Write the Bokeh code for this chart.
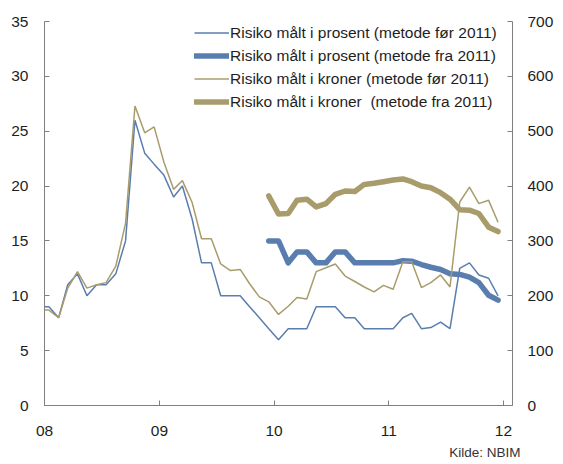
import pandas as pd
from bokeh.plotting import figure
from bokeh.models import (Range1d, LinearAxis, FixedTicker, DatetimeTickFormatter,
                          Title)
from bokeh.embed import file_html
from bokeh.resources import INLINE

# ---- data (monthly, Dec 2007 - Dec 2011) ----
months_old = pd.date_range("2007-12-01", periods=49, freq="MS") + pd.Timedelta(days=14)
months_new = pd.date_range("2009-12-01", periods=25, freq="MS") + pd.Timedelta(days=14)

pct_old = [9,
           9, 8, 11, 12, 10, 11, 11, 12, 15, 26, 23, 22,
           21, 19, 20, 17, 13, 13, 10, 10, 10, 9, 8, 7,
           6, 7, 7, 7, 9, 9, 9, 8, 8, 7, 7, 7,
           7, 8, 8.4, 7, 7.1, 7.6, 7, 12.5, 13, 11.9, 11.6, 10]

pct_new = [15,
           15, 13, 14, 14, 13, 13, 14, 14, 13, 13, 13, 13,
           13, 13.2, 13.15, 12.85, 12.6, 12.4, 12.0, 11.95, 11.7, 11.2, 10.05, 9.6]

kr_old = [174,
          174, 160, 214, 244, 214, 220, 224, 254, 332, 546, 497, 508,
          444, 394, 410, 370, 304, 304, 258, 246, 248, 222, 198, 189,
          166, 181, 197, 194, 244, 251, 258, 236, 226, 216, 207, 219,
          212, 262, 262, 215, 224, 238, 216, 371, 398, 368, 374, 334]

kr_new = [382,
          349, 350, 374, 376, 362, 368, 385, 391, 390, 403, 405, 408,
          411, 413, 408, 400, 397, 388, 376, 357, 356, 350, 325, 317]

year_ticks = ["2008-01-01", "2009-01-01", "2010-01-01", "2011-01-01", "2012-01-01"]
left_ticks = [0, 5, 10, 15, 20, 25, 30, 35]
right_ticks = [0, 100, 200, 300, 400, 500, 600, 700]

labels = ["Risiko målt i prosent (metode før 2011)",
          "Risiko målt i prosent (metode fra 2011)",
          "Risiko målt i kroner (metode før 2011)",
          "Risiko målt i kroner  (metode fra 2011)"]
source_text = "Kilde: NBIM"

BLUE = "#5a7db0"
TAN = "#a89c6c"
AXC = "#808080"
TXT = "#1e1e1e"
FONT = "Liberation Sans, Arial, sans-serif"

p = figure(width=556, height=464, x_axis_type="datetime",
           x_range=Range1d(pd.Timestamp("2008-01-01"), pd.Timestamp("2012-01-30")),
           y_range=Range1d(0, 35),
           output_backend="svg", toolbar_location=None,
           min_border_left=44, min_border_right=38, min_border_top=21,
           min_border_bottom=59)
p.extra_y_ranges = {"kr": Range1d(0, 700)}
p.grid.visible = False
p.outline_line_color = None
p.background_fill_color = "white"
p.border_fill_color = "white"

p.line(months_old, pct_old, color=BLUE, line_width=1.5, legend_label=labels[0])
p.line(months_new, pct_new, color=BLUE, line_width=5.5, line_join="round",
       line_cap="round", legend_label=labels[1])
p.line(months_old, kr_old, color=TAN, line_width=1.5, y_range_name="kr",
       legend_label=labels[2])
p.line(months_new, kr_new, color=TAN, line_width=5.5, line_join="round",
       line_cap="round", y_range_name="kr", legend_label=labels[3])

raxis = LinearAxis(y_range_name="kr")
p.add_layout(raxis, "right")


def style(ax, standoff):
    ax.axis_line_color = AXC
    ax.axis_line_width = 1
    ax.major_tick_line_color = AXC
    ax.major_tick_in = 5
    ax.major_tick_out = 0
    ax.minor_tick_line_color = None
    ax.major_label_text_font = FONT
    ax.major_label_text_font_size = "15.5px"
    ax.major_label_text_color = TXT
    ax.major_label_standoff = standoff


xa = p.xaxis[0]
style(xa, 20)
xa.ticker = FixedTicker(ticks=[pd.Timestamp(t).value / 1e6 for t in year_ticks])
xa.formatter = DatetimeTickFormatter(
    microseconds="%y", milliseconds="%y", seconds="%y", minsec="%y",
    minutes="%y", hourmin="%y", hours="%y", days="%y", months="%y", years="%y")

ya = p.yaxis[0]
style(ya, 16)
ya.ticker = FixedTicker(ticks=left_ticks)
style(raxis, 15)
raxis.ticker = FixedTicker(ticks=right_ticks)

lg = p.legend[0]
lg.location = (150, 292)
lg.background_fill_alpha = 0
lg.border_line_color = None
lg.padding = 0
lg.margin = 0
lg.spacing = 0
lg.glyph_width = 35
lg.glyph_height = 23
lg.label_height = 23
lg.label_standoff = 1
lg.label_text_font = FONT
lg.label_text_font_size = "15.5px"
lg.label_text_color = TXT

src = Title(text=source_text, align="right", offset=-8, standoff=9,
            text_font=FONT, text_font_size="13.5px", text_font_style="normal",
            text_color="#333333")
p.add_layout(src, "below")

open("out.html", "w").write(file_html(p, INLINE))
